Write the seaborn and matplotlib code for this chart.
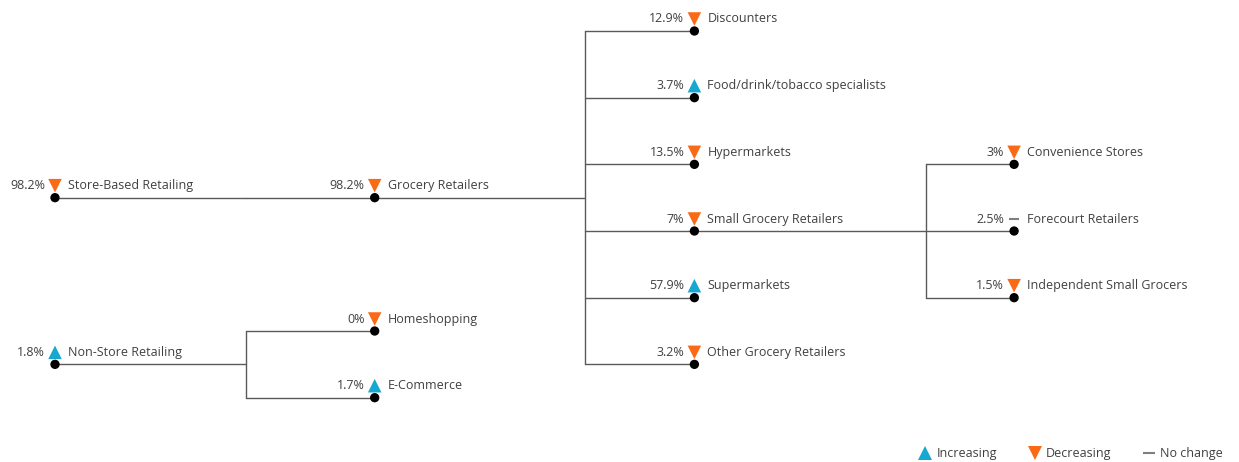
import matplotlib
matplotlib.use("Agg")
import matplotlib.pyplot as plt
from matplotlib.lines import Line2D
import seaborn as sns
import pandas as pd

# tree data
names = ["Store-Based Retailing", "Grocery Retailers", "Discounters",
         "Food/drink/tobacco specialists", "Hypermarkets", "Small Grocery Retailers",
         "Supermarkets", "Other Grocery Retailers", "Convenience Stores",
         "Forecourt Retailers", "Independent Small Grocers", "Non-Store Retailing",
         "Homeshopping", "E-Commerce"]
values = [98.2, 98.2, 12.9, 3.7, 13.5, 7, 57.9, 3.2, 3, 2.5, 1.5, 1.8, 0, 1.7]
trends = ["Decreasing", "Decreasing", "Decreasing", "Increasing", "Decreasing",
          "Decreasing", "Increasing", "Decreasing", "Decreasing", "No change",
          "Decreasing", "Increasing", "Decreasing", "Increasing"]
parents = [None, "Store-Based Retailing",
           "Grocery Retailers", "Grocery Retailers", "Grocery Retailers",
           "Grocery Retailers", "Grocery Retailers", "Grocery Retailers",
           "Small Grocery Retailers", "Small Grocery Retailers", "Small Grocery Retailers",
           None, "Non-Store Retailing", "Non-Store Retailing"]
root_rows = {"Store-Based Retailing": 2.5, "Non-Store Retailing": 5}

# layout (pixels)
X0, DX = 55, 319.7
Y0, DY = 31, 66.67
ELBOW_X = [246, 585, 926]
colors = {"Increasing": "#16A8D0", "Decreasing": "#FA6A16", "No change": "#7F7F7F"}
TXT = "#404040"
LINE = "#5A5A5A"

df = pd.DataFrame({"name": names, "value": values, "trend": trends, "parent": parents})

rows, depth = {}, {}
for n, p in zip(names, parents):
    if p is None:
        rows[n] = root_rows[n]
        depth[n] = 0
for n, p in zip(names, parents):
    if p is not None and n not in rows:
        kids = [c for c, q in zip(names, parents) if q == p]
        for i, c in enumerate(kids):
            rows[c] = rows[p] + (i - (len(kids) - 1) / 2)
            depth[c] = depth[p] + 1
df["x"] = [X0 + depth[n] * DX for n in names]
df["y"] = [Y0 + rows[n] * DY for n in names]

sns.set_style("white")
plt.rcParams["font.family"] = ["Open Sans", "DejaVu Sans"]

fig = plt.figure(figsize=(12.39, 4.62), dpi=100)
ax = fig.add_axes([0, 0, 1, 1])
ax.set_xlim(0, 1239)
ax.set_ylim(462, 0)
ax.axis("off")

pos = df.set_index("name")
for p in df["parent"].dropna().unique():
    px, py = pos.loc[p, "x"], pos.loc[p, "y"]
    kids = df[df["parent"] == p]
    ex = ELBOW_X[depth[p]]
    ax.plot([px, ex], [py, py], color=LINE, lw=1, zorder=1)
    ax.plot([ex, ex], [kids["y"].min(), kids["y"].max()], color=LINE, lw=1, zorder=1)
    for _, k in kids.iterrows():
        ax.plot([ex, k["x"]], [k["y"], k["y"]], color=LINE, lw=1, zorder=1)

sns.scatterplot(data=df, x="x", y="y", color="black", s=45, edgecolor="none",
                ax=ax, zorder=3, legend=False)

df["my"] = df["y"] - 12
tri = df[df["trend"] != "No change"]
sns.scatterplot(data=tri, x="x", y="my", hue="trend", style="trend",
                markers={"Increasing": "^", "Decreasing": "v"},
                palette=colors, s=95, edgecolor="none", ax=ax, zorder=3, legend=False)
flat = df[df["trend"] == "No change"]
ax.scatter(flat["x"], flat["my"], marker="_", s=60, color=colors["No change"], linewidths=1.5)

for _, r in df.iterrows():
    ax.text(r["x"] - 10, r["my"], f"{r['value']:g}%", ha="right", va="center",
            fontsize=9, color=TXT)
    ax.text(r["x"] + 13, r["my"], r["name"], ha="left", va="center",
            fontsize=9, color=TXT)

handles = [Line2D([], [], ls="none", marker="^", color=colors["Increasing"], markersize=9.5, markeredgewidth=0),
           Line2D([], [], ls="none", marker="v", color=colors["Decreasing"], markersize=9.5, markeredgewidth=0),
           Line2D([], [], ls="none", marker="_", color=colors["No change"], markersize=9, markeredgewidth=1.5)]
ax.legend(handles, ["Increasing", "Decreasing", "No change"], ncol=3, frameon=False,
          loc="lower right", bbox_to_anchor=(0.996, -0.02), fontsize=9,
          handletextpad=0.3, columnspacing=2.4, labelcolor=TXT, handlelength=1.2)

fig.savefig("out.png", dpi=100)
